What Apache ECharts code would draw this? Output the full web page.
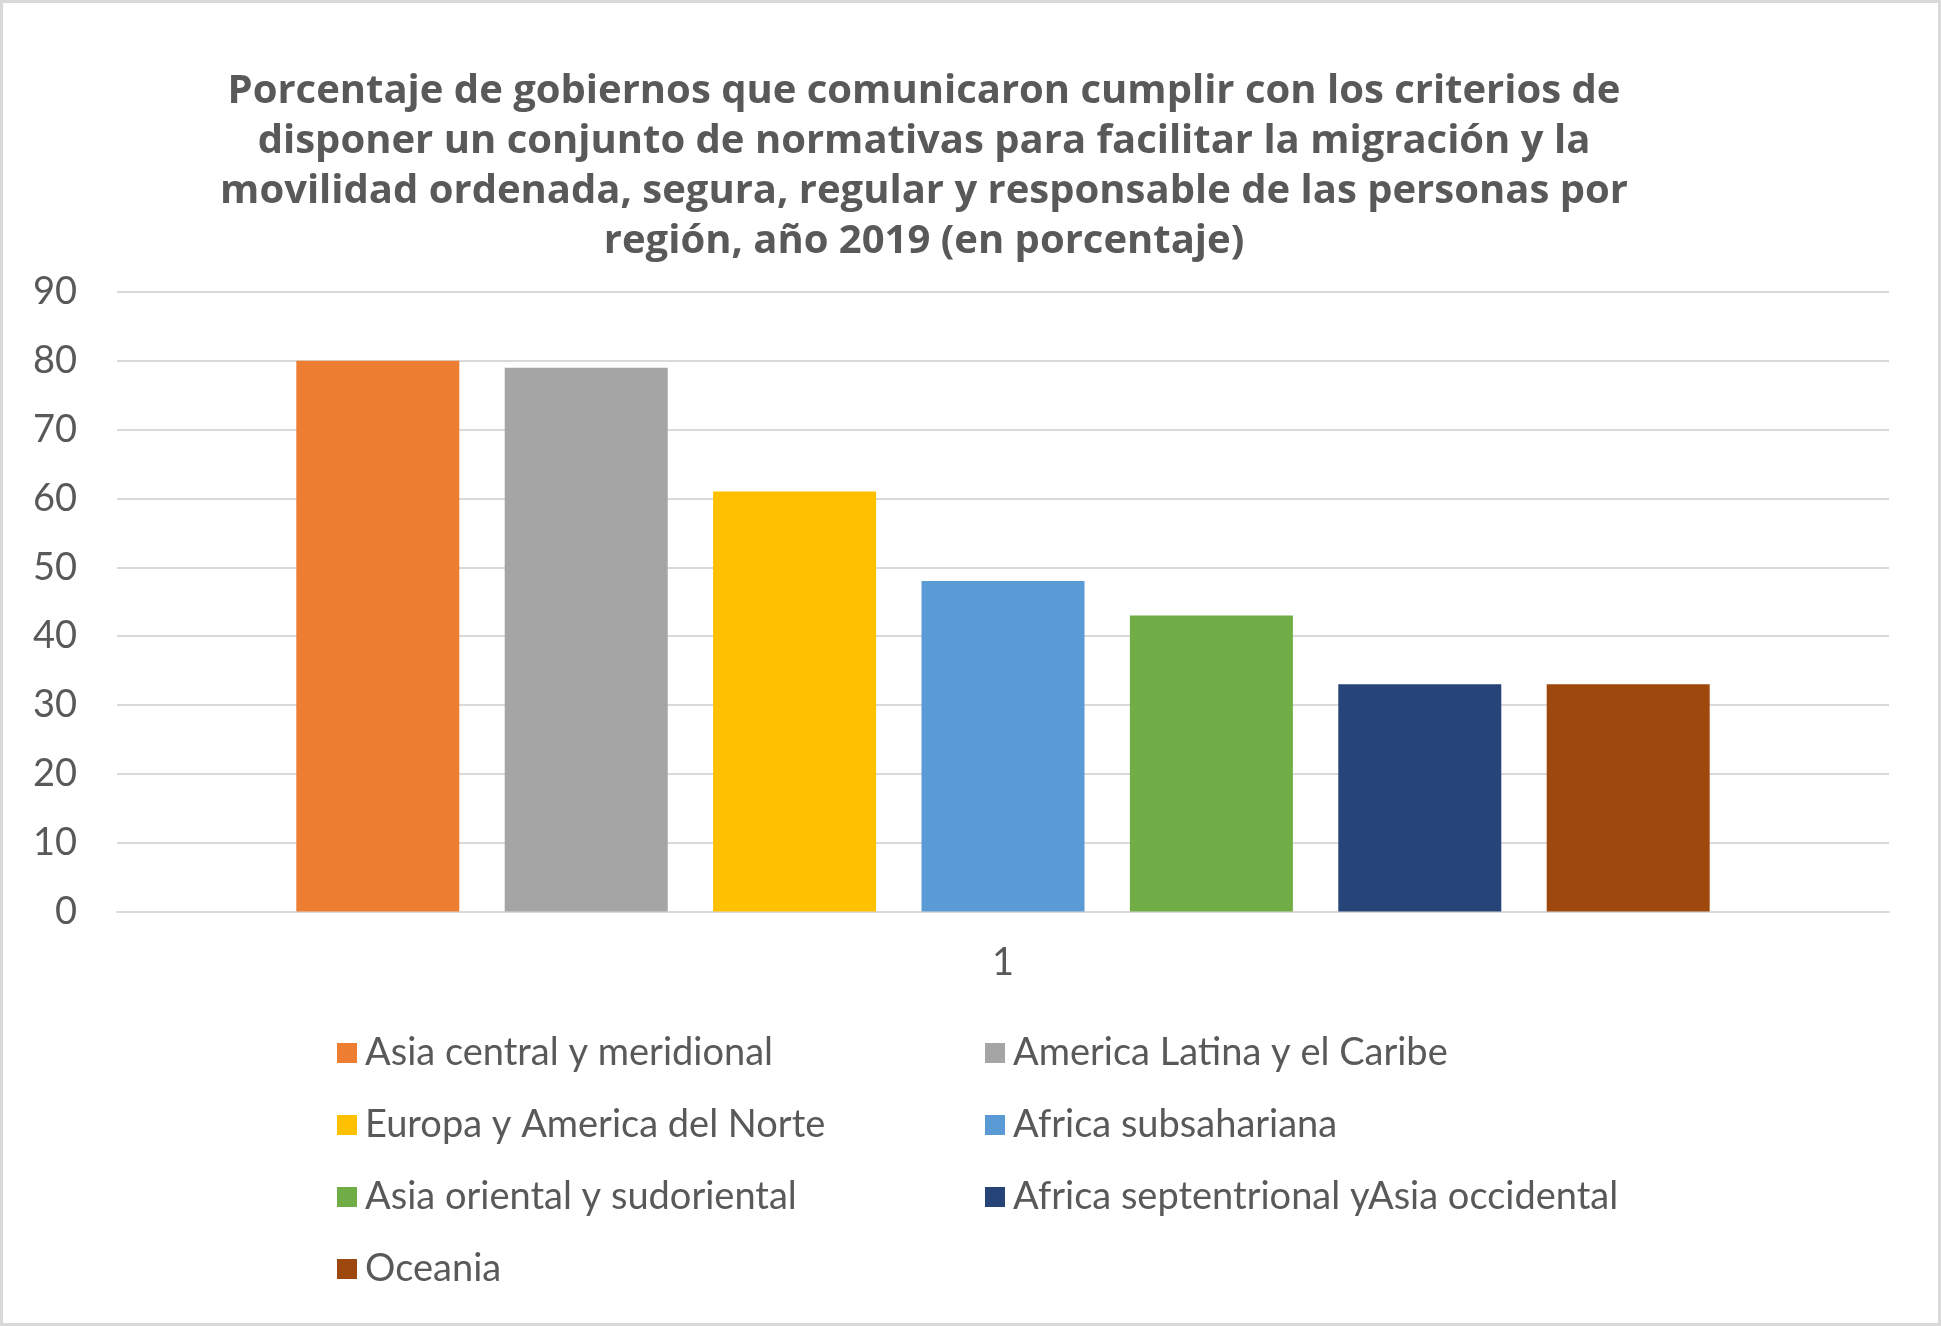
<!DOCTYPE html>
<html>
<head>
<meta charset="utf-8">
<script src="https://cdn.jsdelivr.net/npm/echarts@6/dist/echarts.min.js"></script>
<style>
html,body{margin:0;padding:0;background:#fff;}
#c{width:1941px;height:1326px;}
</style>
</head>
<body>
<div id="c"></div>
<script>
var categories = ['1'];
var seriesNames = [
  'Asia central y meridional',
  'America Latina y el Caribe',
  'Europa y America del Norte',
  'Africa subsahariana',
  'Asia oriental y sudoriental',
  'Africa septentrional yAsia occidental',
  'Oceania'
];
var values = [80, 79, 61, 48, 43, 33, 33];
var yMin = 0, yMax = 90, yStep = 10;
var titleText = 'Porcentaje de gobiernos que comunicaron cumplir con los criterios de\ndisponer un conjunto de normativas para facilitar la migración y la\nmovilidad ordenada, segura, regular y responsable de las personas por\nregión, año 2019 (en porcentaje)';

var palette = ['#ED7D31', '#A5A5A5', '#FFC000', '#5B9BD5', '#70AD47', '#264478', '#9E480E'];
var FONT = 'Lato';
var TXT = '#595959';

var chart = echarts.init(document.getElementById('c'));
var series = seriesNames.map(function (n, i) {
  return {
    name: n,
    type: 'bar',
    data: [values[i]],
    barWidth: 163,
    barGap: '27.85%',
    itemStyle: { color: palette[i] }
  };
});

function legendCfg(left, idxs) {
  return {
    orient: 'vertical',
    left: left,
    top: 1034,
    padding: 0,
    itemWidth: 20,
    itemHeight: 20,
    itemGap: 34,
    icon: 'rect',
    selectedMode: false,
    data: idxs.map(function (i) { return seriesNames[i]; }),
    textStyle: { fontFamily: FONT, fontSize: 38, color: TXT, padding: [0, 0, 0, 3] }
  };
}

chart.setOption({
  backgroundColor: '#fff',
  animation: false,
  color: palette,
  graphic: [
    { type: 'rect', shape: { x: 1.5, y: 1.5, width: 1938, height: 1323 }, style: { fill: 'none', stroke: '#D9D9D9', lineWidth: 3 }, silent: true },
    { type: 'text', x: 924, y: 66.5, style: { text: titleText, fontFamily: 'Open Sans', fontWeight: 'bold', fontSize: 40, lineHeight: 50, fill: TXT, align: 'center', verticalAlign: 'top' } }
  ],
  legend: [legendCfg(337, [0, 2, 4, 6]), legendCfg(985, [1, 3, 5])],
  grid: { left: 117, right: 52, top: 292, bottom: 414.5, containLabel: false },
  xAxis: {
    type: 'category',
    data: categories,
    axisLine: { show: true, lineStyle: { color: '#D9D9D9', width: 2 } },
    axisTick: { show: false },
    axisLabel: { fontFamily: FONT, fontSize: 38, color: TXT, margin: 32 }
  },
  yAxis: {
    type: 'value',
    min: yMin, max: yMax, interval: yStep,
    axisLine: { show: false },
    axisTick: { show: false },
    splitLine: { lineStyle: { color: '#D9D9D9', width: 2 } },
    axisLabel: { fontFamily: FONT, fontSize: 38, color: TXT, margin: 40 }
  },
  series: series
});
</script>
</body>
</html>
